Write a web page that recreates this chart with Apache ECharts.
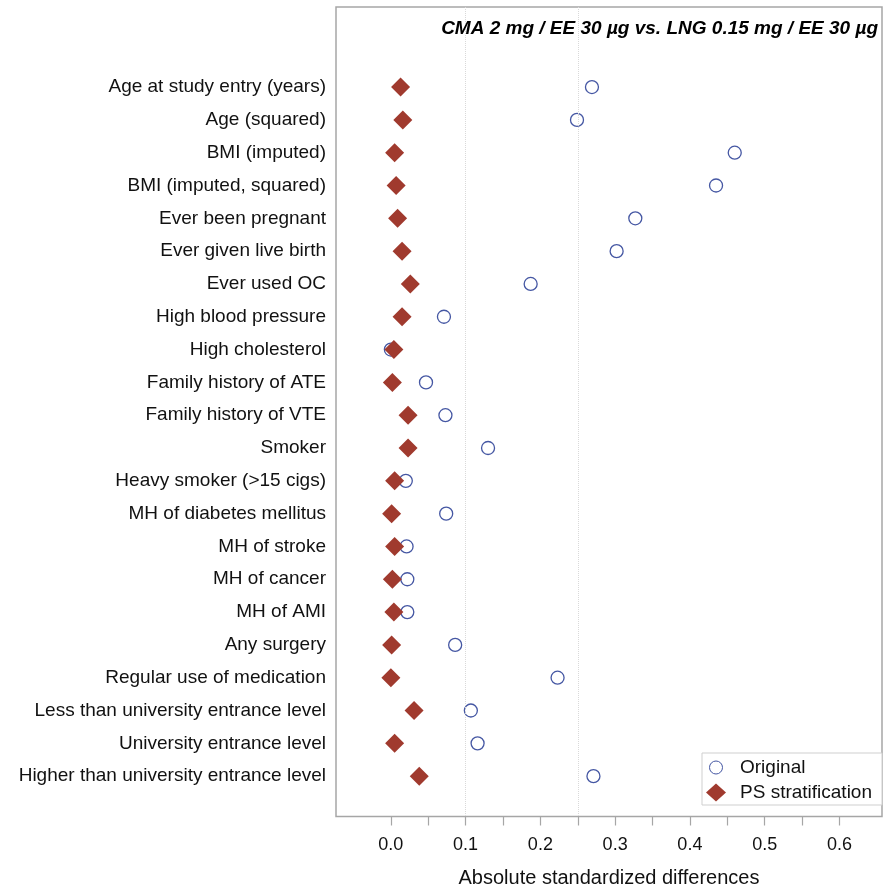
<!DOCTYPE html>
<html>
<head>
<meta charset="utf-8">
<script src="https://cdn.jsdelivr.net/npm/echarts@6/dist/echarts.min.js"></script>
<style>
  html, body { margin: 0; padding: 0; background: #fff; }
  #chart { width: 883px; height: 891px; }
</style>
</head>
<body>
<div id="chart"></div>
<script>
// Covariates, listed top to bottom
const covariates = [
  'Age at study entry (years)',
  'Age (squared)',
  'BMI (imputed)',
  'BMI (imputed, squared)',
  'Ever been pregnant',
  'Ever given live birth',
  'Ever used OC',
  'High blood pressure',
  'High cholesterol',
  'Family history of ATE',
  'Family history of VTE',
  'Smoker',
  'Heavy smoker (>15 cigs)',
  'MH of diabetes mellitus',
  'MH of stroke',
  'MH of cancer',
  'MH of AMI',
  'Any surgery',
  'Regular use of medication',
  'Less than university entrance level',
  'University entrance level',
  'Higher than university entrance level'
];

// Absolute standardized differences before adjustment
const originalDiff = [
  0.269, 0.249, 0.460, 0.435, 0.327, 0.302, 0.187, 0.071, 0.000, 0.047, 0.073,
  0.130, 0.020, 0.074, 0.021, 0.022, 0.022, 0.086, 0.223, 0.107, 0.116, 0.271
];

// Absolute standardized differences after propensity-score stratification
const psDiff = [
  0.013, 0.016, 0.005, 0.007, 0.009, 0.015, 0.026, 0.015, 0.004, 0.002, 0.023,
  0.023, 0.005, 0.001, 0.005, 0.002, 0.004, 0.001, 0.000, 0.031, 0.005, 0.038
];

// Reference thresholds
const refLines = [0.1, 0.25];

// x-axis ticks and labels
const xTicks = [0, 0.05, 0.1, 0.15, 0.2, 0.25, 0.3, 0.35, 0.4, 0.45, 0.5, 0.55, 0.6];
const xLabels = [0, 0.1, 0.2, 0.3, 0.4, 0.5, 0.6];

const FONT = '"Liberation Sans", Arial, sans-serif';
const CIRCLE_COLOR = '#4557a3';
const DIAMOND_COLOR = '#a03a2e';

// Small open circle for the legend, padded inside an 18x18 box so it
// renders smaller than the diamond icon next to it
const smallCircleIcon =
  'path://M0,0 M18,18 M15.5,9 A6.5,6.5,0,1,1,2.5,9 A6.5,6.5,0,1,1,15.5,9 Z';

const chart = echarts.init(document.getElementById('chart'), null, { renderer: 'canvas' });

const rowIdx = covariates.map((_, i) => i);

chart.setOption({
  animation: false,
  backgroundColor: '#ffffff',
  textStyle: { fontFamily: FONT },
  title: {
    text: 'CMA 2 mg / EE 30 µg vs. LNG 0.15 mg / EE 30 µg',
    right: 0,
    top: 14,
    textStyle: {
      fontFamily: FONT,
      fontSize: 19,
      fontStyle: 'italic',
      fontWeight: 'bold',
      color: '#000'
    }
  },
  legend: {
    orient: 'vertical',
    right: 1,
    top: 753,
    backgroundColor: '#fff',
    borderColor: '#cfcfcf',
    borderWidth: 1,
    padding: [5, 10, 3, 4],
    itemGap: 6,
    itemWidth: 20,
    itemHeight: 18,
    textStyle: { fontFamily: FONT, fontSize: 19, color: '#111', padding: [0, 0, 0, 9] },
    data: [
      {
        name: 'Original',
        icon: smallCircleIcon,
        itemStyle: { color: '#ffffff', borderColor: CIRCLE_COLOR, borderWidth: 1 }
      },
      { name: 'PS stratification' }
    ]
  },
  grid: {
    left: 336,
    right: 1,
    top: 7,
    bottom: 74.5,
    show: true,
    borderColor: '#a6a6a6',
    borderWidth: 1.5,
    containLabel: false,
    outerBoundsMode: 'none'
  },
  xAxis: {
    type: 'value',
    min: -0.0734,
    max: 0.657,
    name: 'Absolute standardized differences',
    nameLocation: 'middle',
    nameGap: 52,
    nameTextStyle: { fontFamily: FONT, fontSize: 20, color: '#111' },
    axisLine: { show: false, onZero: false },
    axisTick: {
      show: true,
      customValues: xTicks,
      length: 9,
      lineStyle: { color: '#a6a6a6', width: 1.2 }
    },
    axisLabel: {
      customValues: xLabels,
      margin: 20,
      fontFamily: FONT,
      fontSize: 18,
      color: '#111',
      formatter: v => v.toFixed(1)
    },
    splitLine: { show: false }
  },
  yAxis: {
    type: 'value',
    inverse: true,
    min: -2.44,
    max: 22.23,
    axisLine: { show: false, onZero: false },
    axisTick: { show: false },
    splitLine: { show: false },
    axisLabel: {
      customValues: rowIdx,
      margin: 10,
      fontFamily: FONT,
      fontSize: 19,
      color: '#111',
      formatter: v => covariates[Math.round(v)] || ''
    }
  },
  series: [
    {
      name: 'Original',
      type: 'scatter',
      symbol: 'circle',
      symbolSize: 13,
      itemStyle: { color: '#ffffff', borderColor: CIRCLE_COLOR, borderWidth: 1.3, opacity: 1 },
      data: originalDiff.map((v, i) => [v, i]),
      markLine: {
        silent: true,
        symbol: 'none',
        label: { show: false },
        lineStyle: { color: '#d9d9d9', type: 'dotted', width: 1 },
        data: refLines.map(v => ({ xAxis: v }))
      },
      z: 2
    },
    {
      name: 'PS stratification',
      type: 'scatter',
      symbol: 'diamond',
      symbolSize: 19,
      itemStyle: { color: DIAMOND_COLOR, opacity: 1 },
      data: psDiff.map((v, i) => [v, i]),
      z: 3
    }
  ]
});
</script>
</body>
</html>
